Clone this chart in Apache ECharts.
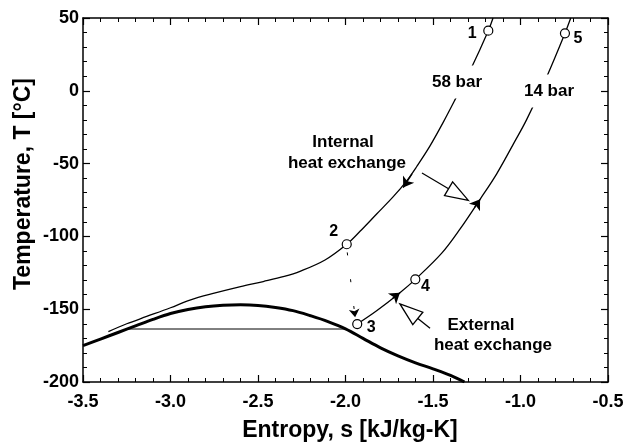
<!DOCTYPE html>
<html>
<head>
<meta charset="utf-8">
<script src="https://cdn.jsdelivr.net/npm/echarts@6/dist/echarts.min.js"></script>
<style>
  html, body { margin: 0; padding: 0; background: #fff; }
  #chart { width: 637px; height: 443px; }
</style>
</head>
<body>
<div id="chart"></div>
<script>
// Axis ranges and tick spacing
const xRange = [-3.5, -0.5];
const yRange = [-200, 50];
const xStep = 0.5;
const yStep = 50;

// Saturation dome (thick curve)
const domeS = [-3.5, -3.4, -3.3, -3.2, -3.1, -3.0, -2.9, -2.8, -2.7, -2.6, -2.5, -2.4, -2.3, -2.2, -2.1, -2.0, -1.9, -1.8, -1.7, -1.6, -1.5, -1.4, -1.32];
const domeT = [-175, -170.5, -166, -161.5, -157, -153, -150.2, -148.3, -147.3, -147, -147.4, -148.8, -151, -154.5, -158.5, -163.5, -170, -176.5, -182, -186.8, -191, -195.5, -200];

// Two-phase horizontal line
const flatS = [-3.24, -2.0];
const flatT = [-163.6, -163.6];

// 58 bar isobar (high-pressure stream)
const hpS = [-3.355, -3.25, -3.136, -3.0, -2.889, -2.75, -2.6, -2.47, -2.35, -2.26, -2.117, -1.993, -1.917, -1.822, -1.727, -1.65, -1.593, -1.517, -1.441, -1.365, -1.279, -1.184, -1.157];
const hpT = [-165.4, -160, -155, -149, -143.7, -139, -134.5, -131, -127.5, -124, -116.2, -105.4, -96.5, -84.6, -72.7, -61.8, -52, -37.8, -21.5, -4, 16.2, 41.3, 50];

// 14 bar isobar (low-pressure stream)
const lpS = [-1.933, -1.822, -1.689, -1.601, -1.45, -1.346, -1.231, -1.136, -1.041, -0.965, -0.85, -0.746, -0.713];
const lpT = [-160.2, -151.1, -138.7, -129.5, -111.5, -95, -74.5, -57, -36.6, -19.8, 9.7, 39.5, 50];

// Numbered state points
const stateNames = ['1', '2', '3', '4', '5'];
const stateS = [-1.184, -1.993, -1.933, -1.601, -0.746];
const stateT = [41.3, -105.4, -160.2, -129.5, 39.5];

// Flow-direction arrowheads along the isobars: [fromS, fromT, toS, toT]
const flowArrows = [
  [-1.62, -57, -1.67, -66.5],
  [-1.73, -142.5, -1.689, -138.7],
  [-1.262, -80, -1.231, -74.5]
];

// Throttling step from state 2 to state 3
const throttle = [-1.99, -111, -1.945, -155.5];

// Heat-exchange pointers: [tailS, tailT, tipS, tipT]
const hxArrows = [
  [-1.563, -56.5, -1.298, -75.3],
  [-1.517, -163.1, -1.689, -146.4]
];

const FONT = '"Liberation Sans", Arial, Helvetica, sans-serif';
const pairs = (a, b) => a.map((v, i) => [v, b[i]]);

// Offsets of the state-point numbers from their markers
const stateLabelOffset = { '1': [-16, 3], '2': [-13, -13], '3': [14, 4], '4': [10, 7], '5': [13, 5] };

const chart = echarts.init(document.getElementById('chart'), null, { renderer: 'canvas' });

const axisLineStyle = { color: '#000', width: 1.5 };
function xAxisDef(pos, showLabel) {
  return {
    type: 'value', position: pos, min: xRange[0], max: xRange[1], interval: xStep,
    axisLine: { show: true, onZero: false, lineStyle: axisLineStyle },
    axisTick: { show: true, inside: true, length: 7, lineStyle: { color: '#000', width: 1.2 } },
    minorTick: { show: true, splitNumber: 5, length: 4, lineStyle: { color: '#000', width: 1 } },
    splitLine: { show: false },
    axisLabel: {
      show: showLabel, margin: 11, color: '#000', fontSize: 18, fontWeight: 'bold', fontFamily: FONT,
      formatter: v => v.toFixed(1)
    }
  };
}
function yAxisDef(pos, showLabel) {
  return {
    type: 'value', position: pos, min: yRange[0], max: yRange[1], interval: yStep,
    axisLine: { show: true, onZero: false, lineStyle: axisLineStyle },
    axisTick: { show: true, inside: true, length: 7, lineStyle: { color: '#000', width: 1.2 } },
    minorTick: { show: true, splitNumber: 5, length: 4, lineStyle: { color: '#000', width: 1 } },
    splitLine: { show: false },
    axisLabel: { show: showLabel, margin: 4, color: '#000', fontSize: 18, fontWeight: 'bold', fontFamily: FONT }
  };
}

const stateData = stateNames.map((n, i) => ({
  value: [stateS[i], stateT[i]],
  name: n,
  label: { offset: stateLabelOffset[n] }
}));

function hxArrow(params, api) {
  const a = api.coord([api.value(0), api.value(1)]);
  const b = api.coord([api.value(2), api.value(3)]);
  const dx = b[0] - a[0], dy = b[1] - a[1];
  const len = Math.hypot(dx, dy);
  const ux = dx / len, uy = dy / len;
  const L = 23, W = 8;
  const base = [b[0] - ux * L, b[1] - uy * L];
  const nx = -uy, ny = ux;
  return {
    type: 'group',
    children: [
      { type: 'line', shape: { x1: a[0], y1: a[1], x2: base[0], y2: base[1] },
        style: { stroke: '#000', lineWidth: 1.3 } },
      { type: 'polygon',
        shape: { points: [b, [base[0] + nx * W, base[1] + ny * W], [base[0] - nx * W, base[1] - ny * W]] },
        style: { fill: '#fff', stroke: '#000', lineWidth: 1.3 } }
    ]
  };
}

const annoText = (text, x, y, size, extra) => Object.assign({
  type: 'text', x: x, y: y, z: 100,
  style: Object.assign({ text: text, fill: '#000', font: 'bold ' + size + 'px ' + FONT, align: 'center', verticalAlign: 'middle' }, extra || {})
});

const curveStyle = { smooth: 0.35, showSymbol: false };

chart.setOption({
  animation: false,
  backgroundColor: '#fff',
  grid: { left: 83, top: 18, right: 29, bottom: 61, containLabel: false },
  xAxis: [xAxisDef('bottom', true), xAxisDef('top', false)],
  yAxis: [yAxisDef('left', true), yAxisDef('right', false)],
  series: [
    Object.assign({ name: 'dome', type: 'line', data: pairs(domeS, domeT),
      lineStyle: { color: '#000', width: 3 }, z: 2 }, curveStyle),
    { name: 'flat', type: 'line', data: pairs(flatS, flatT), showSymbol: false,
      lineStyle: { color: '#000', width: 1 }, z: 2 },
    Object.assign({ name: '58 bar', type: 'line', data: pairs(hpS, hpT),
      lineStyle: { color: '#000', width: 1.3 }, z: 3 }, curveStyle),
    Object.assign({ name: '14 bar', type: 'line', data: pairs(lpS, lpT),
      lineStyle: { color: '#000', width: 1.3 }, z: 3 }, curveStyle),
    { name: 'flow', type: 'lines', coordinateSystem: 'cartesian2d',
      data: flowArrows.map(f => ({ coords: [[f[0], f[1]], [f[2], f[3]]] })),
      symbol: ['none', 'arrow'], symbolSize: 10,
      lineStyle: { color: '#000', width: 1.3, opacity: 1 }, z: 4 },
    { name: 'throttle', type: 'lines', coordinateSystem: 'cartesian2d',
      data: [{ coords: [[throttle[0], throttle[1]], [throttle[2], throttle[3]]] }],
      symbol: ['none', 'arrow'], symbolSize: 8,
      lineStyle: { color: '#000', width: 1, type: [3, 24], opacity: 1 }, z: 4 },
    { name: 'hx', type: 'custom', renderItem: hxArrow, data: hxArrows, clip: false, z: 5,
      encode: { x: [0, 2], y: [1, 3] } },
    { name: 'states', type: 'scatter', data: stateData, symbol: 'circle', symbolSize: 9,
      itemStyle: { color: '#fff', borderColor: '#000', borderWidth: 1.2, opacity: 1 },
      label: { show: true, position: 'inside', formatter: p => p.name, color: '#000', opacity: 1,
        textBorderWidth: 0, fontSize: 16, fontWeight: 'bold', fontFamily: FONT },
      z: 6 }
  ],
  graphic: [
    annoText('58 bar', 457, 82, 17, { backgroundColor: '#fff', padding: [8, 3] }),
    annoText('14 bar', 549, 91, 17, { backgroundColor: '#fff', padding: [8, 3] }),
    annoText('Internal', 343, 142, 17),
    annoText('heat exchange', 347, 163, 17),
    annoText('External', 481, 325, 17),
    annoText('heat exchange', 493, 345, 17),
    annoText('Entropy, s [kJ/kg-K]', 350, 431, 23),
    Object.assign(annoText('Temperature, T [°C]', 24, 184, 23), { rotation: Math.PI / 2 })
  ]
});
</script>
</body>
</html>
